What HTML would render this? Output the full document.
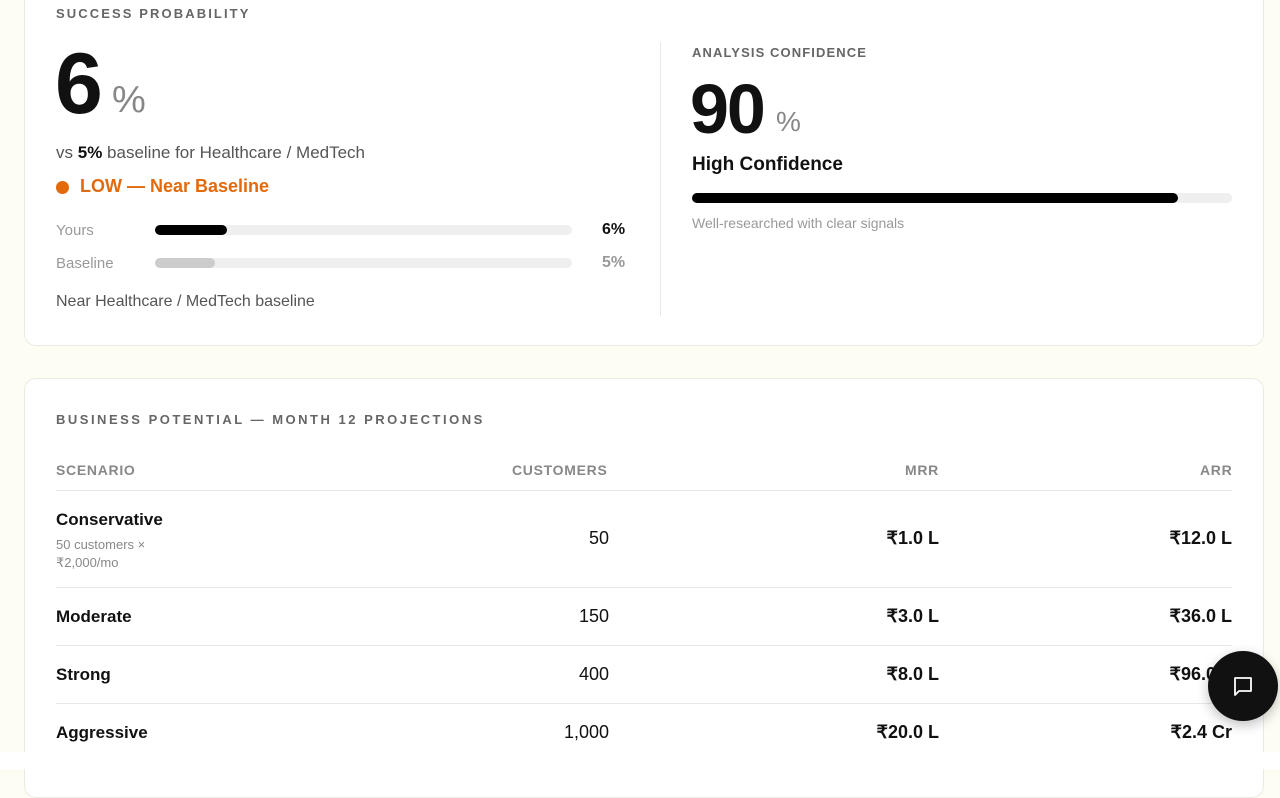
<!DOCTYPE html>
<html><head><meta charset="utf-8"><style>
*{box-sizing:border-box;margin:0;padding:0}
body{width:1280px;height:769px;overflow:hidden;background:#fdfdf4;font-family:"Liberation Sans",sans-serif;color:#111;position:relative}
.card{position:absolute;left:24px;width:1240px;background:#fff;border:1px solid #ebebe3;border-radius:12px}
.lbl{font-size:13px;font-weight:bold;letter-spacing:2px;color:#666;position:absolute}
.a{position:absolute;white-space:nowrap}
.bar{position:absolute;height:10px;border-radius:5px;background:#efefef}
.th{position:absolute;top:83px;font-size:14px;font-weight:bold;color:#888;letter-spacing:.7px}
.row{position:absolute;left:31px;width:1176px;border-top:1px solid #e8e8e8}
.n{position:absolute;font-size:17px;font-weight:bold}
.v{position:absolute;font-size:18px;text-align:right}
</style></head><body>
<div class="card" style="top:-20px;height:366px">
 <div class="lbl" style="left:31px;top:25px;letter-spacing:2.1px">SUCCESS PROBABILITY</div>
 <div class="a" style="left:30px;top:60px;font-size:86px;font-weight:bold;line-height:86px">6</div>
 <div class="a" style="left:87px;top:98px;font-size:38px;color:#888">%</div>
 <div class="a" style="left:31px;top:162px;font-size:17px;color:#555">vs <b style="color:#111">5%</b> baseline for Healthcare / MedTech</div>
 <div class="a" style="left:31px;top:200px;width:13px;height:13px;border-radius:50%;background:#e26a0c"></div>
 <div class="a" style="left:55px;top:195px;font-size:18px;font-weight:bold;color:#e26a0c">LOW — Near Baseline</div>
 <div class="a" style="left:31px;top:241px;font-size:15px;color:#999">Yours</div>
 <div class="bar" style="left:130px;top:244px;width:417px"></div>
 <div class="bar" style="left:130px;top:244px;width:72px;background:#000"></div>
 <div class="a" style="left:577px;top:240px;font-size:16px;font-weight:bold">6%</div>
 <div class="a" style="left:31px;top:274px;font-size:15px;color:#999">Baseline</div>
 <div class="bar" style="left:130px;top:277px;width:417px"></div>
 <div class="bar" style="left:130px;top:277px;width:60px;background:#ccc"></div>
 <div class="a" style="left:577px;top:273px;font-size:16px;font-weight:bold;color:#999">5%</div>
 <div class="a" style="left:31px;top:312px;font-size:16px;color:#555">Near Healthcare / MedTech baseline</div>
 <div class="a" style="left:635px;top:61px;width:1px;height:274px;background:#e8e8e8"></div>
 <div class="lbl" style="left:667px;top:64px;letter-spacing:1.1px">ANALYSIS CONFIDENCE</div>
 <div class="a" style="left:665px;top:95px;font-size:70px;font-weight:bold;line-height:66px;letter-spacing:-2px">90</div>
 <div class="a" style="left:751px;top:125px;font-size:28px;color:#888">%</div>
 <div class="a" style="left:667px;top:173px;font-size:19px;font-weight:bold">High Confidence</div>
 <div class="bar" style="left:667px;top:212px;width:540px"></div>
 <div class="bar" style="left:667px;top:212px;width:486px;background:#000"></div>
 <div class="a" style="left:667px;top:234px;font-size:14px;color:#999">Well-researched with clear signals</div>
</div>
<div class="card" style="top:378px;height:420px">
 <div class="lbl" style="left:31px;top:33px;letter-spacing:2.5px">BUSINESS POTENTIAL — MONTH 12 PROJECTIONS</div>
 <div class="th" style="left:31px">SCENARIO</div>
 <div class="th" style="left:487px">CUSTOMERS</div>
 <div class="th" style="left:880px">MRR</div>
 <div class="th" style="left:1175px">ARR</div>
 <div class="row" style="top:111px"></div>
 <div class="n" style="left:31px;top:131px">Conservative</div>
 <div class="a" style="left:31px;top:157px;font-size:13px;color:#888;line-height:18px">50 customers ×<br>₹2,000/mo</div>
 <div class="v" style="right:654px;top:149px">50</div>
 <div class="v" style="right:324px;top:149px;font-weight:bold">₹1.0 L</div>
 <div class="v" style="right:31px;top:149px;font-weight:bold">₹12.0 L</div>
 <div class="row" style="top:208px"></div>
 <div class="n" style="left:31px;top:228px">Moderate</div>
 <div class="v" style="right:654px;top:227px">150</div>
 <div class="v" style="right:324px;top:227px;font-weight:bold">₹3.0 L</div>
 <div class="v" style="right:31px;top:227px;font-weight:bold">₹36.0 L</div>
 <div class="row" style="top:266px"></div>
 <div class="n" style="left:31px;top:286px">Strong</div>
 <div class="v" style="right:654px;top:285px">400</div>
 <div class="v" style="right:324px;top:285px;font-weight:bold">₹8.0 L</div>
 <div class="v" style="right:31px;top:285px;font-weight:bold">₹96.0 L</div>
 <div class="row" style="top:324px"></div>
 <div class="n" style="left:31px;top:344px">Aggressive</div>
 <div class="v" style="right:654px;top:343px">1,000</div>
 <div class="v" style="right:324px;top:343px;font-weight:bold">₹20.0 L</div>
 <div class="v" style="right:31px;top:343px;font-weight:bold">₹2.4 Cr</div>
</div>
<div class="a" style="left:0;top:752px;width:1280px;height:17px;background:#fff"></div>
<div class="a" style="left:1208px;top:651px;width:70px;height:70px;border-radius:50%;background:#111;box-shadow:0 4px 12px rgba(0,0,0,.25)">
 <svg width="70" height="70" viewBox="0 0 70 70"><path d="M27 27h16v13H31l-4 4z" fill="none" stroke="#fff" stroke-width="1.8" stroke-linejoin="round"/></svg>
</div>
</body></html>
